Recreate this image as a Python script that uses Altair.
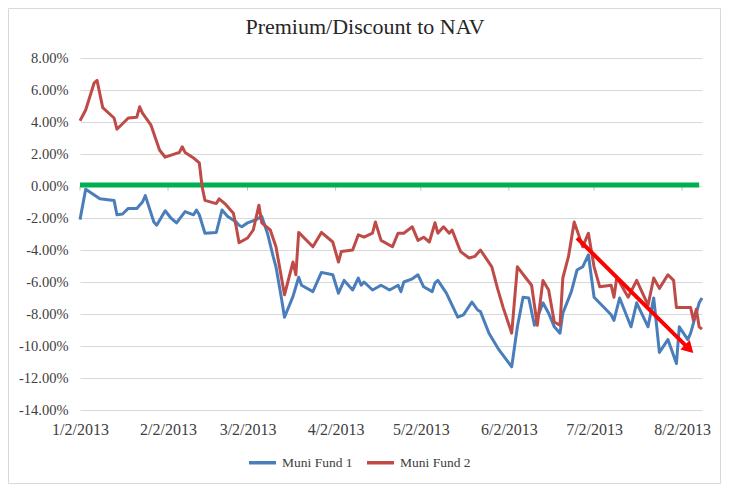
import altair as alt
import pandas as pd

title_text = "Premium/Discount to NAV"
series_names = ["Muni Fund 1", "Muni Fund 2"]
series_colors = ["#4A7EBB", "#BE4B48"]

fund1_dates = [
    "2013-01-02", "2013-01-04", "2013-01-09", "2013-01-14", "2013-01-15", "2013-01-17", "2013-01-19",
    "2013-01-22", "2013-01-24", "2013-01-25", "2013-01-28", "2013-01-29", "2013-02-01", "2013-02-03",
    "2013-02-05", "2013-02-08", "2013-02-11", "2013-02-12", "2013-02-13", "2013-02-15", "2013-02-19",
    "2013-02-21", "2013-02-23", "2013-02-26", "2013-02-27", "2013-02-28", "2013-03-02", "2013-03-05",
    "2013-03-07", "2013-03-09", "2013-03-11", "2013-03-12", "2013-03-14", "2013-03-15", "2013-03-18",
    "2013-03-19", "2013-03-20", "2013-03-21", "2013-03-25", "2013-03-28", "2013-04-01", "2013-04-03",
    "2013-04-05", "2013-04-08", "2013-04-10", "2013-04-11", "2013-04-12", "2013-04-15", "2013-04-18",
    "2013-04-21", "2013-04-24", "2013-04-25", "2013-04-26", "2013-04-29", "2013-05-01", "2013-05-03",
    "2013-05-06", "2013-05-07", "2013-05-08", "2013-05-11", "2013-05-15", "2013-05-17", "2013-05-20",
    "2013-05-22", "2013-05-23", "2013-05-26", "2013-05-29", "2013-05-30", "2013-06-03", "2013-06-05",
    "2013-06-07", "2013-06-09", "2013-06-11", "2013-06-14", "2013-06-16", "2013-06-18", "2013-06-20",
    "2013-06-21", "2013-06-24", "2013-06-26", "2013-06-28", "2013-06-30", "2013-07-02", "2013-07-08",
    "2013-07-09", "2013-07-11", "2013-07-15", "2013-07-17", "2013-07-21", "2013-07-23", "2013-07-25",
    "2013-07-28", "2013-07-31", "2013-08-01", "2013-08-04", "2013-08-05", "2013-08-08", "2013-08-09",
]
fund1_values = [
    -2.1, -0.2, -0.8, -0.9, -1.8, -1.75, -1.4,
    -1.4, -1.0, -0.6, -2.25, -2.45, -1.55, -2.0,
    -2.3, -1.6, -1.8, -1.5, -1.8, -2.95, -2.9,
    -1.5, -1.9, -2.25, -2.45, -2.55, -2.3, -2.1,
    -1.9, -2.95, -4.4, -5.05, -7.1, -8.2, -6.9,
    -6.3, -5.7, -6.2, -6.6, -5.4, -5.55, -6.7,
    -5.9, -6.5, -5.75, -6.2, -6.0, -6.5, -6.2,
    -6.5, -6.2, -6.6, -6.0, -5.8, -5.55, -6.3,
    -6.6, -6.05, -5.9, -6.7, -8.2, -8.05, -7.25,
    -7.75, -7.85, -9.2, -10.1, -10.35, -11.3, -8.8,
    -6.95, -7.0, -8.7, -7.3, -7.95, -8.8, -9.2,
    -7.95, -6.6, -5.25, -5.05, -4.3, -6.95, -8.05,
    -8.4, -7.0, -8.8, -7.3, -8.8, -7.0, -10.4,
    -9.6, -11.1, -8.8, -9.6, -9.2, -7.3, -7.0,
]

fund2_dates = [
    "2013-01-02", "2013-01-04", "2013-01-07", "2013-01-08", "2013-01-10", "2013-01-14", "2013-01-15",
    "2013-01-19", "2013-01-22", "2013-01-23", "2013-01-24", "2013-01-27", "2013-01-30", "2013-02-01",
    "2013-02-06", "2013-02-07", "2013-02-08", "2013-02-11", "2013-02-13", "2013-02-14", "2013-02-15",
    "2013-02-19", "2013-02-20", "2013-02-22", "2013-02-25", "2013-02-26", "2013-02-27", "2013-03-02",
    "2013-03-04", "2013-03-06", "2013-03-07", "2013-03-10", "2013-03-12", "2013-03-13", "2013-03-15",
    "2013-03-18", "2013-03-19", "2013-03-20", "2013-03-25", "2013-03-28", "2013-04-01", "2013-04-03",
    "2013-04-04", "2013-04-08", "2013-04-10", "2013-04-12", "2013-04-15", "2013-04-16", "2013-04-18",
    "2013-04-22", "2013-04-24", "2013-04-26", "2013-04-29", "2013-05-01", "2013-05-03", "2013-05-05",
    "2013-05-07", "2013-05-08", "2013-05-10", "2013-05-12", "2013-05-13", "2013-05-16", "2013-05-19",
    "2013-05-21", "2013-05-23", "2013-05-27", "2013-05-29", "2013-05-31", "2013-06-03", "2013-06-05",
    "2013-06-08", "2013-06-10", "2013-06-12", "2013-06-14", "2013-06-16", "2013-06-18", "2013-06-20",
    "2013-06-21", "2013-06-23", "2013-06-25", "2013-06-28", "2013-06-30", "2013-07-02", "2013-07-04",
    "2013-07-08", "2013-07-09", "2013-07-10", "2013-07-14", "2013-07-17", "2013-07-21", "2013-07-23",
    "2013-07-25", "2013-07-28", "2013-07-30", "2013-07-31", "2013-08-05", "2013-08-06", "2013-08-07",
    "2013-08-08", "2013-08-09",
]
fund2_values = [
    4.08, 4.75, 6.45, 6.6, 4.9, 4.25, 3.55,
    4.25, 4.3, 4.95, 4.55, 3.8, 2.25, 1.8,
    2.1, 2.45, 2.1, 1.75, 1.45, -0.05, -0.9,
    -1.1, -0.8, -1.1, -1.7, -2.55, -3.55, -3.25,
    -2.75, -1.2, -2.3, -2.75, -3.8, -4.8, -6.8,
    -4.75, -5.55, -2.9, -3.8, -2.9, -3.5, -4.75,
    -4.1, -4.0, -3.05, -3.2, -2.95, -2.25, -3.4,
    -3.8, -2.95, -2.95, -2.55, -3.4, -3.2, -3.5,
    -2.3, -2.95, -2.55, -2.95, -2.75, -4.1, -4.5,
    -4.4, -4.0, -5.05, -6.4, -7.6, -9.2, -5.05,
    -5.75, -6.2, -8.7, -5.9, -6.5, -8.5, -8.7,
    -5.75, -4.4, -2.25, -3.8, -2.95, -5.05, -6.3,
    -6.2, -6.95, -5.7, -6.95, -5.9, -7.45, -5.75,
    -6.4, -5.55, -5.9, -7.6, -7.6, -8.4, -7.7,
    -8.8, -8.95,
]

par_line_dates = ["2013-01-02", "2013-08-08"]
par_line_value = 0.07
arrow_dates = ["2013-06-26", "2013-08-04"]
arrow_values = [-3.25, -10.1]
tick_months = [1, 2, 3, 4, 5, 6, 7, 8]
y_ticks = [-14, -12, -10, -8, -6, -4, -2, 0, 2, 4, 6, 8]

SERIF = "Liberation Serif"
TEXT_COLOR = "#404040"

df = pd.concat([
    pd.DataFrame({"date": pd.to_datetime(fund1_dates), "value": fund1_values, "series": series_names[0]}),
    pd.DataFrame({"date": pd.to_datetime(fund2_dates), "value": fund2_values, "series": series_names[1]}),
])
par_df = pd.DataFrame({"start": pd.to_datetime([par_line_dates[0]]),
                       "end": pd.to_datetime([par_line_dates[1]]),
                       "value": [par_line_value]})
arrow_df = pd.DataFrame({"date": pd.to_datetime(arrow_dates), "value": arrow_values})
tick_df = pd.DataFrame({"date": pd.to_datetime([f"2013-{m:02d}-02" for m in tick_months]),
                        "y0": [0.0] * len(tick_months), "y1": [-0.3] * len(tick_months)})
title_df = pd.DataFrame({"t": [title_text]})

x_scale = alt.Scale(domain=[alt.DateTime(year=2013, month=1, date=2),
                            alt.DateTime(year=2013, month=8, date=9)], nice=False)
y_scale = alt.Scale(domain=[-14, 8], nice=False, zero=False)

x_axis = alt.Axis(
    values=[alt.DateTime(year=2013, month=m, date=2) for m in tick_months],
    labelExpr="timeFormat(datum.value, '%-m/%-d/%Y')",
    grid=False, domain=False, ticks=False, labelAngle=0, labelFlush=False,
    labelOverlap=False, labelPadding=11, labelFont=SERIF, labelFontSize=16,
    labelColor=TEXT_COLOR, title=None,
)
y_axis = alt.Axis(
    values=y_ticks,
    labelExpr="(datum.value < 0 ? '-' : '') + format(abs(datum.value), '.2f') + '%'",
    grid=True, gridColor="#D9D9D9", gridWidth=1, domain=False, ticks=False,
    labelOverlap=False, labelFlush=False,
    labelPadding=12, labelFont=SERIF, labelFontSize=14.5, labelColor=TEXT_COLOR, title=None,
)

X = lambda f: alt.X(f, scale=x_scale, axis=x_axis)
Y = lambda f: alt.Y(f, scale=y_scale, axis=y_axis)

border = alt.Chart(title_df).mark_rect(fillOpacity=0, stroke="#D9D9D9", strokeWidth=1).encode(
    x=alt.value(-71.5), x2=alt.value(640.5), y=alt.value(-49.5), y2=alt.value(425.5)
)

title = alt.Chart(title_df).mark_text(
    font=SERIF, fontSize=22, color="#262626", baseline="middle", align="center"
).encode(text="t:N", x=alt.value(285), y=alt.value(-31))

ticks = alt.Chart(tick_df).mark_rule(color="#BFBFBF", strokeWidth=1).encode(
    x=X("date:T"), y=Y("y0:Q"), y2="y1:Q",
)

par = alt.Chart(par_df).mark_rule(color="#00B050", strokeWidth=5).encode(
    x=X("start:T"), x2="end:T", y=Y("value:Q"),
)

lines = alt.Chart(df).mark_line(strokeWidth=3, strokeJoin="round").encode(
    x=X("date:T"),
    y=Y("value:Q"),
    color=alt.Color("series:N", scale=alt.Scale(domain=series_names, range=series_colors),
                    legend=alt.Legend(
                        title=None, orient="none", legendX=167, legendY=389, direction="horizontal",
                        symbolType="stroke", symbolSize=729, symbolStrokeWidth=3.5,
                        labelFont=SERIF, labelFontSize=13.5, labelColor=TEXT_COLOR,
                        labelOffset=4, columnPadding=7,
                    )),
    detail="series:N",
)

arrow_line = alt.Chart(arrow_df).mark_line(color="#FF0000", strokeWidth=4).encode(
    x=X("date:T"), y=Y("value:Q")
)
arrow_head = alt.Chart(arrow_df.tail(1)).mark_point(
    shape="triangle", filled=True, size=180, angle=135, color="#FF0000", opacity=1
).encode(x=X("date:T"), y=Y("value:Q"))

chart = alt.layer(border, title, ticks, par, lines, arrow_line, arrow_head).properties(
    width=622, height=352,
    padding={"left": 72, "top": 50, "right": 30, "bottom": 80},
    autosize=alt.AutoSizeParams(type="none"),
).configure_view(strokeWidth=0).configure_axisY(labelOverlap=False).configure_axisX(labelOverlap=False)

chart.save("out.html", embed_options={"renderer": "svg", "actions": False})
